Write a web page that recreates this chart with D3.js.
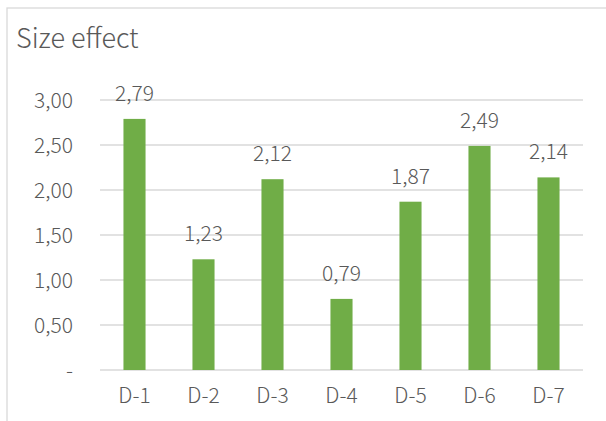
<!DOCTYPE html>
<html>
<head>
<meta charset="utf-8">
<script src="https://cdn.jsdelivr.net/npm/d3@7"></script>
<style>
  html, body { margin: 0; padding: 0; background: #fff; }
  svg { display: block; }
  text { font-family: "Noto Sans CJK SC", "Noto Sans", sans-serif; font-weight: 300; fill: #595959; }
</style>
</head>
<body>
<svg id="chart" width="606" height="421"></svg>
<script>
const categories = ["D-1", "D-2", "D-3", "D-4", "D-5", "D-6", "D-7"];
const values = [2.79, 1.23, 2.12, 0.79, 1.87, 2.49, 2.14];
const yTicks = [0, 0.5, 1.0, 1.5, 2.0, 2.5, 3.0];
const yTickLabels = ["-", "0,50", "1,00", "1,50", "2,00", "2,50", "3,00"];
const title = "Size effect";

const svg = d3.select("#chart");
const W = 606, H = 421;
const plot = { left: 100, right: 583, top: 100, bottom: 370 };
const fontStack = '"Noto Sans CJK SC", "Noto Sans", sans-serif';

// chart frame
svg.append("rect")
  .attr("x", 7).attr("y", 8)
  .attr("width", W + 10).attr("height", H + 10)
  .attr("fill", "none").attr("stroke", "#d9d9d9").attr("stroke-width", 1.3);

const x = d3.scaleBand().domain(categories)
  .range([plot.left, plot.right]).paddingInner(0.68).paddingOuter(0.34);
const y = d3.scaleLinear().domain([0, 3]).range([plot.bottom, plot.top]);

// gridlines
svg.append("g").selectAll("line").data(yTicks).join("line")
  .attr("x1", plot.left).attr("x2", plot.right)
  .attr("y1", d => y(d)).attr("y2", d => y(d))
  .attr("stroke", "#d9d9d9").attr("stroke-width", 1.5);

// y axis labels
const yAxis = d3.axisLeft(y).tickValues(yTicks)
  .tickFormat((d, i) => yTickLabels[i]).tickSize(0).tickPadding(0);
const gy = svg.append("g").attr("transform", "translate(73,0)").call(yAxis);
gy.select(".domain").remove();
gy.selectAll("text")
  .attr("font-size", 21).attr("dy", "0.35em")
  .style("font-family", fontStack).style("font-weight", 300)
  .attr("fill", "#595959");

// x axis labels
const xAxis = d3.axisBottom(x).tickSize(0).tickPadding(0);
const gx = svg.append("g").attr("transform", `translate(0,${plot.bottom})`).call(xAxis);
gx.select(".domain").remove();
gx.selectAll("text")
  .attr("y", 33).attr("dy", 0)
  .attr("font-size", 21)
  .style("font-family", fontStack).style("font-weight", 300)
  .attr("fill", "#595959");

// bars
svg.append("g").selectAll("rect").data(values).join("rect")
  .attr("x", (d, i) => x(categories[i]))
  .attr("y", d => y(d))
  .attr("width", x.bandwidth())
  .attr("height", d => y(0) - y(d))
  .attr("fill", "#70ad47");

// value labels
svg.append("g").selectAll("text").data(values).join("text")
  .attr("x", (d, i) => x(categories[i]) + x.bandwidth() / 2)
  .attr("y", d => y(d) - 18)
  .attr("text-anchor", "middle")
  .attr("font-size", 21)
  .text(d => d.toFixed(2).replace(".", ","));

// title
svg.append("text")
  .attr("x", 16).attr("y", 48)
  .attr("font-size", 27)
  .text(title);
</script>
</body>
</html>
